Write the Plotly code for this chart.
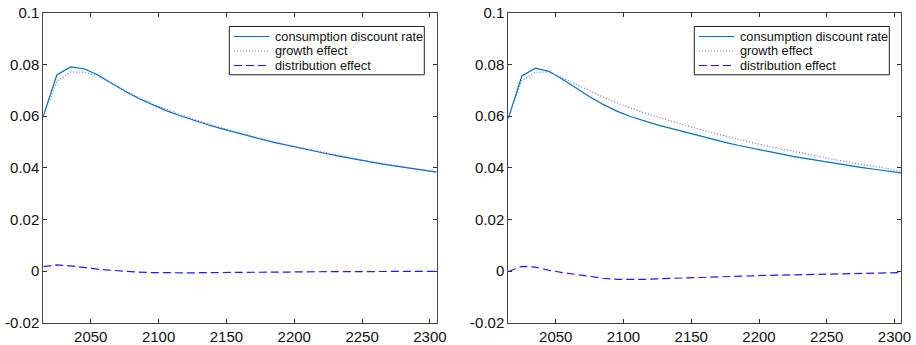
import plotly.graph_objects as go

years = [2015, 2025, 2035, 2045, 2055, 2065, 2075, 2085, 2095, 2105,
         2115, 2125, 2135, 2145, 2155, 2165, 2175, 2185, 2195, 2205,
         2215, 2225, 2235, 2245, 2255, 2265, 2275, 2285, 2295, 2305]

left_cdr = [0.0600, 0.0759, 0.0790, 0.0783, 0.0760, 0.0728, 0.0697, 0.0669, 0.0644, 0.0622,
            0.0603, 0.0585, 0.0568, 0.0553, 0.0538, 0.0524, 0.0511, 0.0498, 0.0486, 0.0475,
            0.0464, 0.0453, 0.0443, 0.0433, 0.0423, 0.0414, 0.0406, 0.0398, 0.0390, 0.0383]
left_growth = [0.0598, 0.0735, 0.0770, 0.0770, 0.0755, 0.0727, 0.0698, 0.0672, 0.0648, 0.0627,
               0.0607, 0.0589, 0.0572, 0.0556, 0.0541, 0.0527, 0.0513, 0.0500, 0.0488, 0.0477,
               0.0466, 0.0455, 0.0445, 0.0435, 0.0425, 0.0416, 0.0408, 0.0400, 0.0392, 0.0385]
left_dist = [0.0017, 0.0024, 0.0020, 0.0013, 0.0007, 0.0003, -0.0001, -0.0004, -0.0006, -0.0007,
             -0.0007, -0.0007, -0.0006, -0.0006, -0.0005, -0.0005, -0.0004, -0.0004, -0.0004, -0.0003,
             -0.0003, -0.0003, -0.0003, -0.0002, -0.0002, -0.0002, -0.0002, -0.0002, -0.0001, -0.0001]

right_cdr = [0.0590, 0.0755, 0.0785, 0.0773, 0.0742, 0.0708, 0.0675, 0.0645, 0.0619, 0.0598,
             0.0581, 0.0566, 0.0552, 0.0538, 0.0524, 0.0511, 0.0498, 0.0486, 0.0475, 0.0464,
             0.0454, 0.0444, 0.0435, 0.0426, 0.0417, 0.0409, 0.0401, 0.0394, 0.0387, 0.0380]
right_growth = [0.0592, 0.0737, 0.0770, 0.0770, 0.0748, 0.0722, 0.0697, 0.0673, 0.0651, 0.0631,
                0.0613, 0.0596, 0.0580, 0.0565, 0.0550, 0.0536, 0.0522, 0.0509, 0.0497, 0.0485,
                0.0474, 0.0463, 0.0452, 0.0442, 0.0432, 0.0423, 0.0414, 0.0403, 0.0395, 0.0387]
right_dist = [-0.0002, 0.0018, 0.0015, 0.0003, -0.0006, -0.0014, -0.0022, -0.0028, -0.0032, -0.0033,
              -0.0032, -0.0030, -0.0028, -0.0026, -0.0024, -0.0022, -0.0021, -0.0019, -0.0018, -0.0017,
              -0.0016, -0.0015, -0.0014, -0.0013, -0.0012, -0.0010, -0.0009, -0.0008, -0.0007, -0.0006]

names = ["consumption discount rate", "growth effect", "distribution effect"]
styles = [dict(color="#0072BD", width=1.2, dash="solid"),
          dict(color="#6a6aff", width=1.2, dash="1px,2px"),
          dict(color="#1a1aff", width=1.2, dash="8px,4px")]

yticks = [-0.02, 0, 0.02, 0.04, 0.06, 0.08, 0.1]
ytick_text = ["-0.02", "0", "0.02", "0.04", "0.06", "0.08", "0.1"]
xticks = [2050, 2100, 2150, 2200, 2250, 2300]

FONT = "Liberation Sans, Arial, sans-serif"
W, H = 916, 345


def px(x):
    return x / W


def py(y):
    return 1 - y / H


fig = go.Figure()
panels = [(left_cdr, left_growth, left_dist, "x", "y"),
          (right_cdr, right_growth, right_dist, "x2", "y2")]
for cdr, gr, di, xa, ya in panels:
    for name, vals, st in zip(names, [cdr, gr, di], styles):
        fig.add_trace(go.Scatter(x=years, y=vals, mode="lines", name=name, line=st,
                                 xaxis=xa, yaxis=ya, showlegend=False))

axis_common = dict(showline=True, linecolor="#444444", linewidth=1, mirror="ticks",
                   ticks="inside", ticklen=4, tickcolor="#333333", showgrid=False,
                   zeroline=False, automargin=False,
                   tickfont=dict(family=FONT, size=15, color="#111111"))

# manual legends (box, line samples, labels) positioned in paper space
shapes = []
annotations = []
legend_boxes = [229.3, 694.3]
row_y = [36.5, 51.0, 65.5]
for bx in legend_boxes:
    shapes.append(dict(type="rect", xref="paper", yref="paper",
                       x0=px(bx), x1=px(bx + 195), y0=py(26.5), y1=py(74.8),
                       line=dict(color="#222222", width=1), fillcolor="white", layer="above"))
    for name, st, ry in zip(names, styles, row_y):
        shapes.append(dict(type="line", xref="paper", yref="paper",
                           x0=px(bx + 4.7), x1=px(bx + 40), y0=py(ry), y1=py(ry),
                           line=dict(color=st["color"], width=st["width"], dash=st["dash"]),
                           layer="above"))
        annotations.append(dict(xref="paper", yref="paper", x=px(bx + 43.5), y=py(ry + 0.5),
                                xanchor="left", yanchor="middle", showarrow=False, text=name,
                                font=dict(family=FONT, size=12.7, color="#111111")))

ydom = [(H - 322.7) / H, (H - 12.7) / H]
fig.update_layout(
    width=W, height=H,
    margin=dict(l=0, r=0, t=0, b=0),
    paper_bgcolor="white", plot_bgcolor="white",
    xaxis=dict(domain=[43.3 / W, 436.7 / W], range=[2015, 2305], tickvals=xticks,
               anchor="y", **axis_common),
    yaxis=dict(domain=ydom, range=[-0.02, 0.1], tickvals=yticks, ticktext=ytick_text,
               anchor="x", **axis_common),
    xaxis2=dict(domain=[508.3 / W, 901.3 / W], range=[2015, 2305], tickvals=xticks,
                anchor="y2", **axis_common),
    yaxis2=dict(domain=ydom, range=[-0.02, 0.1], tickvals=yticks, ticktext=ytick_text,
                anchor="x2", **axis_common),
    shapes=shapes,
    annotations=annotations,
    showlegend=False,
)

fig.write_html("out.html",
               config={"displayModeBar": False},
               post_script="document.body.style.margin='0';document.body.style.padding='0';"
                           "document.body.style.overflow='hidden';")
